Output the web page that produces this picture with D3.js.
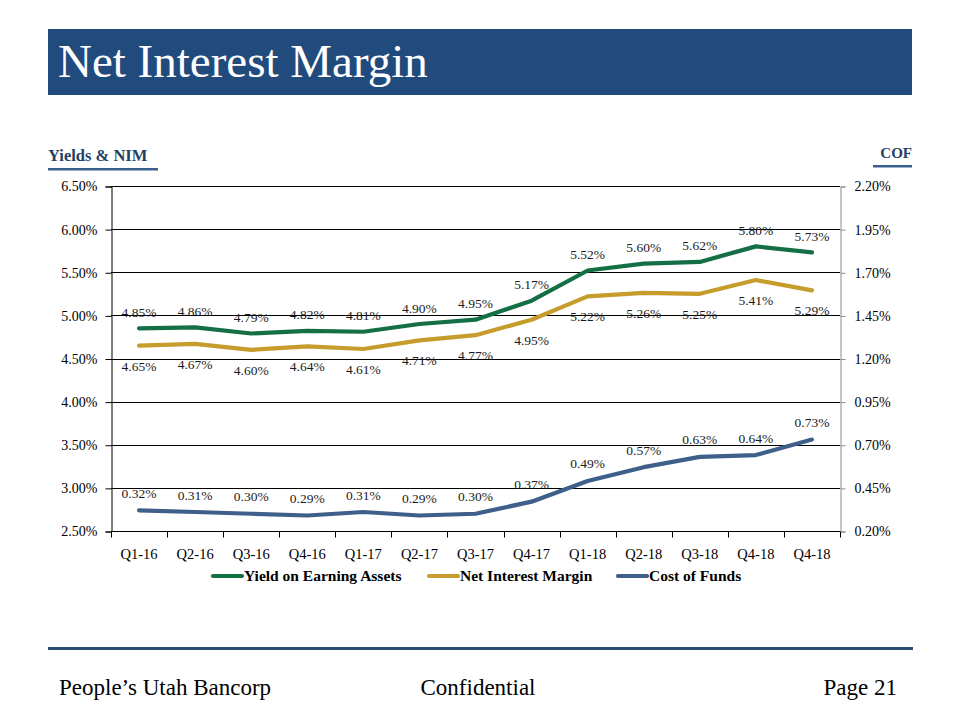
<!DOCTYPE html>
<html>
<head>
<meta charset="utf-8">
<script src="https://cdn.jsdelivr.net/npm/d3@7"></script>
<style>
  html, body { margin: 0; padding: 0; background: #fff; }
  svg { display: block; }
  text { font-family: "Palatino Linotype", "Book Antiqua", Palatino, "Liberation Serif", serif; }
</style>
</head>
<body>
<svg id="chart" width="960" height="720"></svg>
<script>
const categories = ["Q1-16","Q2-16","Q3-16","Q4-16","Q1-17","Q2-17","Q3-17","Q4-17","Q1-18","Q2-18","Q3-18","Q4-18","Q4-18"];
const yieldOnEarningAssets = [4.85,4.86,4.79,4.82,4.81,4.90,4.95,5.17,5.52,5.60,5.62,5.80,5.73];
const netInterestMargin = [4.65,4.67,4.60,4.64,4.61,4.71,4.77,4.95,5.22,5.26,5.25,5.41,5.29];
const costOfFunds = [0.32,0.31,0.30,0.29,0.31,0.29,0.30,0.37,0.49,0.57,0.63,0.64,0.73];
const leftTicks = [2.50,3.00,3.50,4.00,4.50,5.00,5.50,6.00,6.50];
const rightTicks = [0.20,0.45,0.70,0.95,1.20,1.45,1.70,1.95,2.20];
const seriesNames = ["Yield on Earning Assets","Net Interest Margin","Cost of Funds"];
const seriesColors = ["#146f45","#c69c2c","#3e5f8a"];

const svg = d3.select("#chart");
const plot = {left: 111, right: 840, top: 186, bottom: 531};
const FONT = '"Palatino Linotype","Book Antiqua",Palatino,"Liberation Serif",serif';

// Title banner
svg.append("rect").attr("x", 48).attr("y", 29).attr("width", 864).attr("height", 66).attr("fill", "#224b7d");
svg.append("text").attr("x", 58).attr("y", 77).attr("fill", "#fff")
  .attr("font-size", 47).text("Net Interest Margin");

// Axis titles
svg.append("text").attr("x", 48).attr("y", 161).attr("font-size", 16.5).attr("font-weight", "bold")
  .attr("fill", "#1f3f66").text("Yields & NIM");
svg.append("rect").attr("x", 48).attr("y", 168).attr("width", 110).attr("height", 2.5).attr("fill", "#3a5f8a");
svg.append("text").attr("x", 912).attr("y", 158).attr("font-size", 15).attr("font-weight", "bold")
  .attr("text-anchor", "end").attr("fill", "#1f3f66").text("COF");
svg.append("rect").attr("x", 873).attr("y", 165).attr("width", 39).attr("height", 2.5).attr("fill", "#3a5f8a");

// Scales
const x = d3.scalePoint().domain(d3.range(categories.length)).range([plot.left, plot.right]).padding(0.5);
const xBand = d3.scaleBand().domain(d3.range(categories.length)).range([plot.left, plot.right]);
const yL = d3.scaleLinear().domain([2.5, 6.5]).range([plot.bottom, plot.top]);
const yR = d3.scaleLinear().domain([0.2, 2.2]).range([plot.bottom, plot.top]);

// Gridlines
svg.append("g").selectAll("line").data(leftTicks).join("line")
  .attr("x1", plot.left).attr("x2", plot.right)
  .attr("y1", d => Math.round(yL(d)) + 0.5).attr("y2", d => Math.round(yL(d)) + 0.5)
  .attr("stroke", "#000").attr("stroke-width", 1);

// Left axis
const leftAxis = d3.axisLeft(yL).tickValues(leftTicks).tickFormat(d => d.toFixed(2) + "%").tickSize(6).tickPadding(8);
const gL = svg.append("g").attr("transform", `translate(${plot.left + 0.5},0.5)`).call(leftAxis);
gL.select(".domain").attr("stroke", "#000");
gL.selectAll(".tick line").attr("stroke", "#000");
gL.selectAll(".tick text").attr("font-size", 14).attr("fill", "#000").style("font-family", FONT);

// Right axis
const rightAxis = d3.axisRight(yR).tickValues(rightTicks).tickFormat(d => d.toFixed(2) + "%").tickSize(5).tickPadding(9);
const gR = svg.append("g").attr("transform", `translate(${plot.right + 0.5},0.5)`).call(rightAxis);
gR.select(".domain").attr("stroke", "#8a8a8a");
gR.selectAll(".tick line").attr("stroke", "#8a8a8a");
gR.selectAll(".tick text").attr("font-size", 14).attr("fill", "#000").style("font-family", FONT);

// Bottom axis: ticks at category boundaries, labels centered
const gB = svg.append("g").attr("transform", `translate(0,${plot.bottom + 0.5})`);
const boundaries = d3.range(categories.length + 1).map(i => i < categories.length ? xBand(i) : xBand(categories.length - 1) + xBand.bandwidth());
gB.selectAll("line.tk").data(boundaries).join("line").attr("class", "tk")
  .attr("x1", d => Math.round(d) + 0.5).attr("x2", d => Math.round(d) + 0.5)
  .attr("y1", 0).attr("y2", 6).attr("stroke", "#000");
gB.selectAll("text").data(categories).join("text")
  .attr("x", (d, i) => x(i)).attr("y", 27)
  .attr("text-anchor", "middle").attr("font-size", 14.5).attr("fill", "#000").text(d => d);

// Lines
const lineL = d3.line().x((d, i) => x(i)).y(d => yL(d));
const lineR = d3.line().x((d, i) => x(i)).y(d => yR(d));
const series = [
  {vals: yieldOnEarningAssets, line: lineL, scale: yL, color: seriesColors[0], dy: -11.5},
  {vals: netInterestMargin, line: lineL, scale: yL, color: seriesColors[1], dy: 25},
  {vals: costOfFunds, line: lineR, scale: yR, color: seriesColors[2], dy: -12.5}
];
series.forEach(s => {
  svg.append("path").datum(s.vals).attr("d", s.line).attr("fill", "none")
    .attr("stroke", s.color).attr("stroke-width", 4.2).attr("stroke-linejoin", "round").attr("stroke-linecap", "round");
});
series.forEach(s => {
  svg.append("g").selectAll("text").data(s.vals).join("text")
    .attr("x", (d, i) => x(i)).attr("y", d => s.scale(d) + s.dy)
    .attr("text-anchor", "middle").attr("font-size", 13.5).attr("fill", "#1a1a1a")
    .text(d => d.toFixed(2) + "%");
});

// Legend
const legendItems = [
  {name: seriesNames[0], color: seriesColors[0], x: 213},
  {name: seriesNames[1], color: seriesColors[1], x: 429},
  {name: seriesNames[2], color: seriesColors[2], x: 618}
];
const lg = svg.append("g");
legendItems.forEach(it => {
  lg.append("line").attr("x1", it.x).attr("x2", it.x + 29).attr("y1", 576).attr("y2", 576)
    .attr("stroke", it.color).attr("stroke-width", 4.2).attr("stroke-linecap", "round");
  lg.append("text").attr("x", it.x + 31).attr("y", 581).attr("font-size", 15.5).attr("font-weight", "bold")
    .attr("fill", "#000").text(it.name);
});

// Footer
svg.append("rect").attr("x", 48).attr("y", 647).attr("width", 865).attr("height", 3).attr("fill", "#2c4c72");
svg.append("text").attr("x", 59).attr("y", 695).attr("font-size", 23).attr("fill", "#000").text("People\u2019s Utah Bancorp");
svg.append("text").attr("x", 478).attr("y", 695).attr("font-size", 23).attr("text-anchor", "middle").attr("fill", "#000").text("Confidential");
svg.append("text").attr("x", 897).attr("y", 695).attr("font-size", 23).attr("text-anchor", "end").attr("fill", "#000").text("Page 21");
</script>
</body>
</html>
